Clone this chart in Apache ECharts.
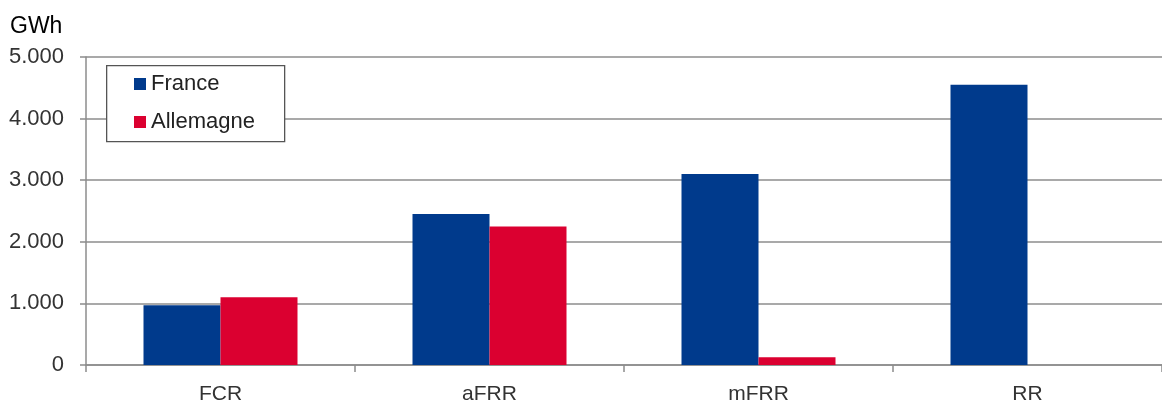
<!DOCTYPE html>
<html>
<head>
<meta charset="utf-8">
<script src="https://cdn.jsdelivr.net/npm/echarts@6/dist/echarts.min.js"></script>
<style>
  html, body { margin: 0; padding: 0; background: #fff; }
  #chart { width: 1162px; height: 405px; }
</style>
</head>
<body>
<div id="chart"></div>
<script>
// Balancing energy activated per reserve product (GWh)
const categories = ['FCR', 'aFRR', 'mFRR', 'RR'];
const seriesNames = ['France', 'Allemagne'];
const franceValues = [970, 2450, 3100, 4550];
const allemagneValues = [1100, 2250, 125, 0];
const yTicks = { min: 0, max: 5000, interval: 1000 };
const unitLabel = 'GWh';

const FONT = '"Liberation Sans Narrow", "Liberation Sans", sans-serif';
const GRID_GREY = '#8c8c8c';

// German-style thousands separator: 5000 -> "5.000"
function fmtThousands(v) {
  const s = String(Math.round(v));
  return s.replace(/\B(?=(\d{3})+(?!\d))/g, '.');
}

const chart = echarts.init(document.getElementById('chart'), null, { renderer: 'canvas' });

chart.setOption({
  backgroundColor: '#fff',
  animation: false,
  // plot runs slightly past the right edge of the canvas
  grid: { left: 86, top: 57, right: -5, bottom: 38, containLabel: false },
  graphic: [
    { type: 'text', left: 10, top: 15,
      style: { text: unitLabel, font: '23px ' + FONT, fill: '#000' } },
    { type: 'rect', left: 106, top: 65, z: 5,
      shape: { width: 178, height: 76 },
      style: { fill: '#fff', stroke: '#555', lineWidth: 1.3 } }
  ],
  legend: {
    orient: 'vertical',
    left: 134, top: 71, z: 10,
    padding: 0,
    itemWidth: 12, itemHeight: 12, itemGap: 12,
    icon: 'rect',
    itemStyle: { borderWidth: 0 },
    textStyle: { fontFamily: FONT, fontSize: 22, color: '#222', lineHeight: 26 },
    data: seriesNames
  },
  xAxis: {
    type: 'category',
    data: categories,
    axisLine: { lineStyle: { color: GRID_GREY, width: 1.5 } },
    axisTick: { show: true, length: 7, lineStyle: { color: GRID_GREY, width: 1.5 } },
    axisLabel: { fontFamily: FONT, fontSize: 21, color: '#333', margin: 19 }
  },
  yAxis: {
    type: 'value',
    min: yTicks.min, max: yTicks.max, interval: yTicks.interval,
    axisLine: { show: true, lineStyle: { color: GRID_GREY, width: 1.5 } },
    axisTick: { show: true, length: 6, lineStyle: { color: GRID_GREY, width: 1.5 } },
    splitLine: { show: true, lineStyle: { color: GRID_GREY, width: 1.5 } },
    axisLabel: { fontFamily: FONT, fontSize: 22, color: '#333', margin: 22,
                 formatter: fmtThousands }
  },
  series: [
    { name: seriesNames[0], type: 'bar', data: franceValues,
      barWidth: 77, barGap: '0%',
      itemStyle: { color: '#003a8c' } },
    { name: seriesNames[1], type: 'bar', data: allemagneValues,
      barWidth: 77,
      itemStyle: { color: '#db0030' } }
  ]
});
</script>
</body>
</html>
